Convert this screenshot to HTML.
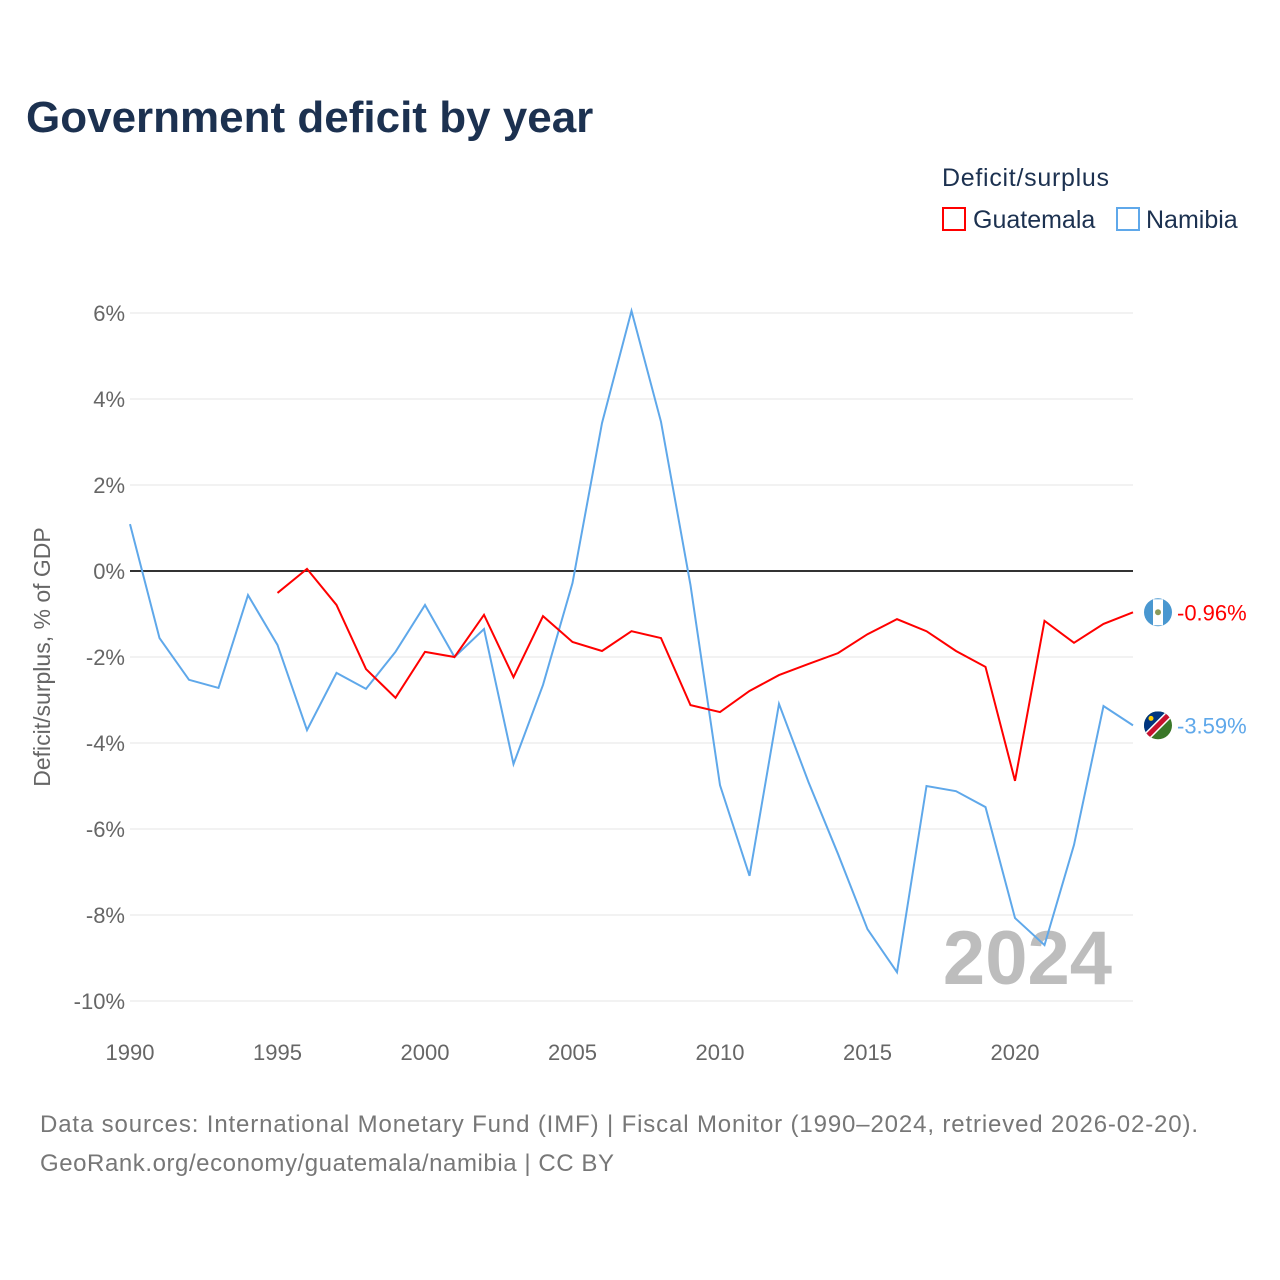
<!DOCTYPE html>
<html><head><meta charset="utf-8">
<style>
body{margin:0;background:#fff;font-family:"Liberation Sans",sans-serif;}
#wrap{position:relative;width:1280px;height:1280px;overflow:hidden;}
</style></head>
<body>
<div id="wrap">
<svg id="chart" width="1280" height="1280" xmlns="http://www.w3.org/2000/svg">
<defs><clipPath id="nclip"><circle id="nclipc" cx="1158" cy="725" r="14"/></clipPath></defs>
<text x="26" y="132" font-size="44" font-weight="bold" fill="#1c3150">Government deficit by year</text>
<text x="942" y="186" font-size="25" fill="#1c3150" textLength="167">Deficit/surplus</text>
<g>
<rect x="943" y="208" width="22" height="22" fill="none" stroke="#ff0000" stroke-width="2"/>
<text x="973" y="228" font-size="25" fill="#1c3150">Guatemala</text></g>
<g>
<rect x="1117" y="208" width="22" height="22" fill="none" stroke="#5fa8ea" stroke-width="2"/>
<text x="1146" y="228" font-size="25" fill="#1c3150">Namibia</text></g>
<g id="grid"></g>
<g id="ticks"></g>
<text transform="translate(50,657) rotate(-90)" text-anchor="middle" font-size="23" fill="#666">Deficit/surplus, % of GDP</text>
<text x="1112" y="984" text-anchor="end" font-size="76" font-weight="bold" fill="#bdbdbd">2024</text>
<g id="series"></g>
<text x="40" y="1132" font-size="24" fill="#777" textLength="1158">Data sources: International Monetary Fund (IMF) | Fiscal Monitor (1990–2024, retrieved 2026-02-20).</text>
<text x="40" y="1171" font-size="24" fill="#777" textLength="574">GeoRank.org/economy/guatemala/namibia | CC BY</text>
</svg>
</div>
<script>
const years = [];
for (let y = 1990; y <= 2024; y++) years.push(y);
const namibia = [1.09,-1.56,-2.53,-2.72,-0.56,-1.72,-3.70,-2.37,-2.74,-1.88,-0.79,-2.0,-1.35,-4.49,-2.65,-0.28,3.44,6.05,3.47,-0.33,-4.98,-7.09,-3.09,-4.91,-6.58,-8.33,-9.33,-5.0,-5.12,-5.49,-8.07,-8.70,-6.37,-3.14,-3.59];
const guatemalaStart = 1995;
const guatemala = [-0.51,0.05,-0.79,-2.28,-2.95,-1.88,-2.0,-1.02,-2.47,-1.05,-1.65,-1.86,-1.40,-1.56,-3.12,-3.28,-2.79,-2.42,-2.16,-1.91,-1.47,-1.12,-1.40,-1.86,-2.23,-4.88,-1.16,-1.67,-1.23,-0.96];
const yTicks = [6,4,2,0,-2,-4,-6,-8,-10];
const xTicks = [1990,1995,2000,2005,2010,2015,2020];

const NS = "http://www.w3.org/2000/svg";
const x = yr => 130 + (yr - 1990) * (1133 - 130) / 34;
const y = v => 571 - v * 43;
function mk(tag, attrs, parent) {
  const e = document.createElementNS(NS, tag);
  for (const k in attrs) e.setAttribute(k, attrs[k]);
  parent.appendChild(e);
  return e;
}
const grid = document.getElementById('grid'), ticks = document.getElementById('ticks'), series = document.getElementById('series');
yTicks.forEach(t => {
  const l = mk('line', {x1:130, x2:1133, y1:y(t), y2:y(t), stroke: t===0?'#333':'#e6e6e6', 'stroke-width': t===0?2:1}, grid);
  
  
  const tx = mk('text', {x:125, y:y(t)+8, 'text-anchor':'end', 'font-size':22, fill:'#666'}, ticks);
  tx.textContent = t + '%';
  
  
});
xTicks.forEach(t => {
  const tx = mk('text', {x:x(t), y:1060, 'text-anchor':'middle', 'font-size':22, fill:'#666'}, ticks);
  tx.textContent = t;
  
  
});
const nPts = namibia.map((v,i) => x(years[i]) + ',' + y(v)).join(' ');
const nl = mk('polyline', {points:nPts, fill:'none', stroke:'#5fa8ea', 'stroke-width':2}, series);


const gPts = guatemala.map((v,i) => x(guatemalaStart+i) + ',' + y(v)).join(' ');
const gl = mk('polyline', {points:gPts, fill:'none', stroke:'#ff0000', 'stroke-width':2}, series);



const gv = guatemala[guatemala.length-1], nv = namibia[namibia.length-1];
const gf = mk('g', {}, series);


mk('circle', {cx:1158, cy:y(gv), r:14, fill:'#4997d0'}, gf);
mk('rect', {x:1153, y:y(gv)-13, width:10, height:26, fill:'#fff'}, gf);
mk('circle', {cx:1158, cy:y(gv), r:3, fill:'#8a9a5b'}, gf);
const cy = y(nv);
document.getElementById('nclipc').setAttribute('cy', cy);
const nf = mk('g', {'clip-path':'url(#nclip)'}, series);


mk('rect', {x:1144, y:cy-14, width:28, height:28, fill:'#3a7728'}, nf);
mk('path', {d:`M1144,${cy-14} L1172,${cy-14} L1144,${cy+14} Z`, fill:'#003580'}, nf);
mk('line', {x1:1144, y1:cy+14, x2:1172, y2:cy-14, stroke:'#fff', 'stroke-width':8}, nf);
mk('line', {x1:1144, y1:cy+14, x2:1172, y2:cy-14, stroke:'#c8102e', 'stroke-width':5}, nf);
mk('circle', {cx:1151, cy:cy-7, r:2.5, fill:'#ffce00'}, nf);
const gt = mk('text', {x:1177, y:y(gv)+8, 'font-size':22, fill:'#ff0000'}, series);
gt.textContent = gv.toFixed(2) + '%';


const nt = mk('text', {x:1177, y:cy+8, 'font-size':22, fill:'#5fa8ea'}, series);
nt.textContent = nv.toFixed(2) + '%';


</script>
</body></html>
